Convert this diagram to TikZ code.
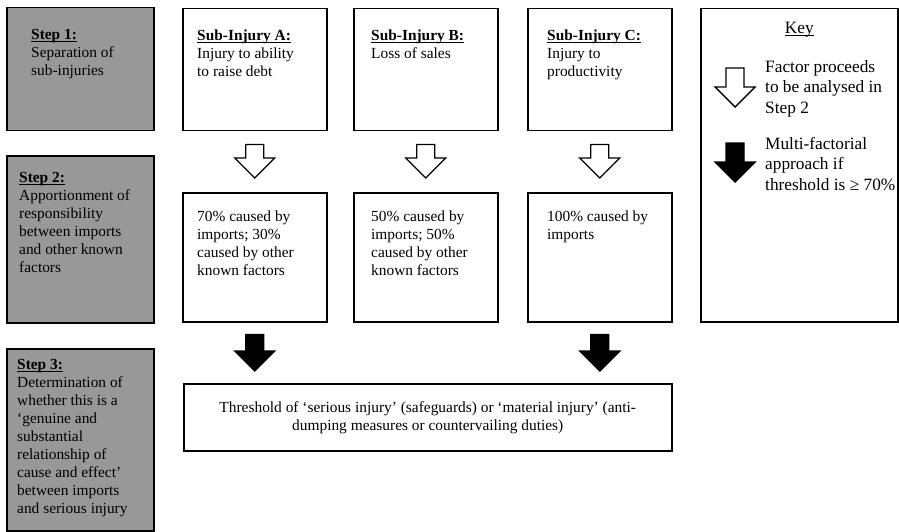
\documentclass[tikz,border=0pt]{standalone}
\usepackage{fontspec}
\setmainfont{Liberation Serif}
\usetikzlibrary{calc}
\definecolor{stepgray}{RGB}{152,152,152}
\newsavebox{\headbox}
\newcommand{\uln}[1]{\sbox{\headbox}{#1}\rlap{\rule[-2.5pt]{\wd\headbox}{1.1pt}}\usebox{\headbox}}
\newcommand{\heading}[1]{\uln{\textbf{#1}}}
\newcommand{\blockarrow}[3]{
  \filldraw[fill=#3,line width=1.4pt,line join=miter]
  let \p1=(#1),\p2=(#2) in
  (\x1-9pt,\y1) -- (\x1+9pt,\y1) -- (\x1+9pt,\y2+20pt) -- (\x1+20pt,\y2+20pt)
  -- (\x1,\y2) -- (\x1-20pt,\y2+20pt) -- (\x1-9pt,\y2+20pt) -- cycle;
}
\newcommand{\injurycol}[5]{
  \node[box,minimum width=144,minimum height=122,
  label={[boxtext,xshift=#3,yshift=-22]north west:{#4}}](top#1) at (#2,8){};
  \node[box,minimum width=144,minimum height=129,
  label={[boxtext,xshift=#3,yshift=-19]north west:{#5}}](mid#1) at (#2,192){};
  \blockarrow{$(top#1.south)+(0,13)$}{$(mid#1.north)+(0,-14)$}{white}
}

\begin{document}
\begin{tikzpicture}[
  x=1pt,y=-1pt,
  font=\fontsize{15.4}{18}\selectfont,
  box/.style={draw,line width=1.5pt,anchor=north west,inner sep=0pt},
  stepbox/.style={box,fill=stepgray,minimum width=147},
  boxtext/.style={anchor=north west,align=left,inner sep=0pt},
  keytext/.style={boxtext,font=\fontsize{17.3}{20.5}\selectfont},
  ]
  \useasboundingbox (0,0) rectangle (899,532);
  % steps
  \node[stepbox,minimum height=123,
  label={[boxtext,xshift=25,yshift=-22]north west:{\heading{Step 1:}\\Separation of\\sub-injuries}}]
  (step1) at (6,7){};
  \node[stepbox,minimum height=167,
  label={[boxtext,xshift=13,yshift=-17]north west:{\heading{Step 2:}\\Apportionment of\\responsibility\\between imports\\and other known\\factors}}]
  (step2) at (6,155){};
  \node[stepbox,minimum height=182,
  label={[boxtext,xshift=11,yshift=-11]north west:{\heading{Step 3:}\\Determination of\\whether this is a\\‘genuine and\\substantial\\relationship of\\cause and effect’\\between imports\\and serious injury}}]
  (step3) at (6,348){};
  % sub-injuries
  \injurycol{a}{182}{15}{\heading{Sub-Injury A:}\\Injury to ability\\to raise debt}{70\% caused by\\imports; 30\%\\caused by other\\known factors}
  \injurycol{b}{353}{18}{\heading{Sub-Injury B:}\\Loss of sales}{50\% caused by\\imports; 50\%\\caused by other\\known factors}
  \injurycol{c}{527}{20}{\heading{Sub-Injury C:}\\Injury to\\productivity}{100\% caused by\\imports}
  % threshold
  \node[box,minimum width=488,minimum height=67,align=center]
  (threshold) at (183,383){Threshold of ‘serious injury’ (safeguards) or ‘material injury’ (anti-\\dumping measures or countervailing duties)};
  \blockarrow{$(mida.south)+(0,12)$}{$(threshold.north)!(mida.south)!(threshold.north east)+(0,-12)$}{black}
  \blockarrow{$(midc.south)+(0,12)$}{$(threshold.north)!(midc.south)!(threshold.north east)+(0,-12)$}{black}
  % key
  \node[box,minimum width=197,minimum height=313,
  label={[anchor=north,inner sep=0pt,yshift=-14,font=\fontsize{17.3}{20.5}\selectfont]north:\uln{Key}}]
  (key) at (700,8){};
  \blockarrow{$(key.north west)+(35,60)$}{$(key.north west)+(35,99)$}{white}
  \node[keytext](keyopen) at (765,60){Factor proceeds\\to be analysed in\\Step 2};
  \blockarrow{$(key.north west)+(35,135)$}{$(key.north west)+(35,174)$}{black}
  \node[keytext](keyfilled) at (765,137){Multi-factorial\\approach if\\threshold is ≥ 70\%};
\end{tikzpicture}
\end{document}
